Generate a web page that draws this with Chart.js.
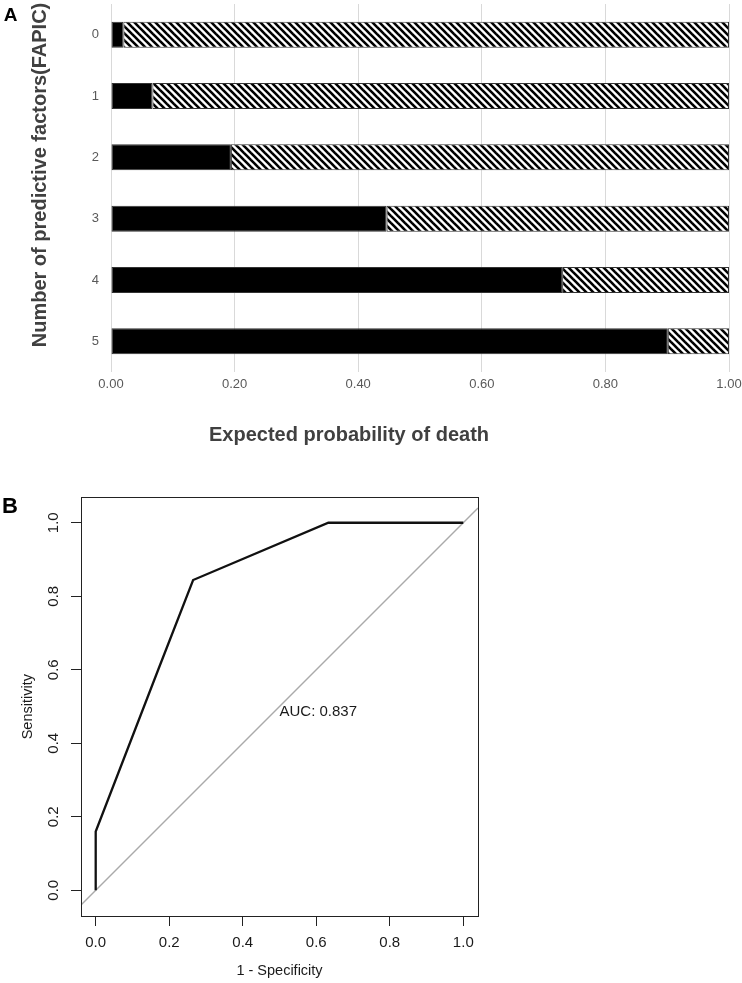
<!DOCTYPE html>
<html>
<head>
<meta charset="utf-8">
<script src="https://cdn.jsdelivr.net/npm/chart.js@4.4.1/dist/chart.umd.min.js"></script>
<style>
  html, body { margin: 0; padding: 0; background: #fff; }
  #wrap { position: relative; width: 742px; height: 983px; overflow: hidden; background: #fff; }
  #barBox { position: absolute; left: 0; top: 0; width: 742px; height: 460px; }
  #rocBox { position: absolute; left: 0; top: 470px; width: 500px; height: 513px; }
</style>
</head>
<body>
<div id="wrap">
  <div id="barBox"><canvas id="barChart"></canvas></div>
  <div id="rocBox"><canvas id="rocChart"></canvas></div>
</div>
<script>
// Panel A: expected probability of death by number of predictive factors
const factorLabels = ['0', '1', '2', '3', '4', '5'];
const deathProb = [0.020, 0.067, 0.194, 0.446, 0.730, 0.901];
const survivalProb = [0.980, 0.933, 0.806, 0.554, 0.270, 0.099];
const probTicks = [0, 0.2, 0.4, 0.6, 0.8, 1.0];

// Panel B: ROC curve
const rocX = [0, 0, 0.17, 0.265, 0.633, 1.0];
const rocY = [0, 0.16, 0.60, 0.844, 1.0, 1.0];
const refX = [-0.04, 1.04];
const refY = [-0.04, 1.04];
const rocTicks = [0, 0.2, 0.4, 0.6, 0.8, 1.0];
const aucLabel = 'AUC: 0.837';

const FONT = '"Liberation Sans", Arial, sans-serif';
Chart.defaults.font.family = FONT;

document.addEventListener('DOMContentLoaded', function() {
    // diagonal hatch for the "survival" part of the bars
    const barCanvas = document.getElementById('barChart');
    function makeHatch(ctx) {
        const s = 7;
        const tile = document.createElement('canvas');
        tile.width = s;
        tile.height = s;
        const g = tile.getContext('2d');
        g.fillStyle = '#fff';
        g.fillRect(0, 0, s, s);
        g.strokeStyle = '#000';
        g.lineWidth = 2.6;
        for (const k of [-1, 0, 1]) {
            g.beginPath();
            g.moveTo(k * s - 1, -1);
            g.lineTo(k * s + s + 1, s + 1);
            g.stroke();
        }
        return ctx.createPattern(tile, 'repeat');
    }
    const hatch = makeHatch(barCanvas.getContext('2d'));

    const barDecor = {
        id: 'barDecor',
        afterDraw(chart) {
            const ctx = chart.ctx;
            ctx.save();
            ctx.textAlign = 'center';
            ctx.textBaseline = 'middle';
            ctx.fillStyle = '#000';
            ctx.font = 'bold 19px ' + FONT;
            ctx.fillText('A', 10.5, 16);
            ctx.fillStyle = '#404040';
            ctx.font = 'bold 20px ' + FONT;
            ctx.fillText('Expected probability of death', 349, 435);
            ctx.translate(40, 175);
            ctx.rotate(-Math.PI / 2);
            ctx.fillText('Number of predictive factors(FAPIC)', 0, 0);
            ctx.restore();
        }
    };

    new Chart(barCanvas, {
        type: 'bar',
        data: {
            labels: factorLabels,
            datasets: [{
                label: 'Death',
                data: deathProb,
                backgroundColor: '#000',
                borderColor: '#333',
                borderWidth: 1,
                borderSkipped: false,
                barPercentage: 0.424,
                categoryPercentage: 1
            }, {
                label: 'Survival',
                data: survivalProb,
                backgroundColor: hatch,
                borderColor: '#333',
                borderWidth: 1,
                borderSkipped: false,
                barPercentage: 0.424,
                categoryPercentage: 1
            }]
        },
        options: {
            indexAxis: 'y',
            responsive: true,
            maintainAspectRatio: false,
            animation: false,
            layout: { padding: { left: 0, right: 13, top: 4, bottom: 0 } },
            plugins: {
                legend: { display: false },
                tooltip: { enabled: false }
            },
            scales: {
                x: {
                    stacked: true,
                    min: 0,
                    max: 1,
                    afterBuildTicks: s => { s.ticks = probTicks.map(v => ({ value: v })); },
                    afterFit: s => { s.height = 88; },
                    grid: { color: '#d9d9d9', lineWidth: 1, drawTicks: true, tickLength: 5, tickColor: 'rgba(0,0,0,0)' },
                    border: { display: false },
                    ticks: {
                        padding: 0,
                        color: '#595959',
                        font: { size: 13 },
                        callback: v => Number(v).toFixed(2)
                    }
                },
                y: {
                    stacked: true,
                    afterFit: s => { s.width = 111; },
                    grid: { drawOnChartArea: false, drawTicks: true, tickLength: 12, tickColor: 'rgba(0,0,0,0)' },
                    border: { display: false },
                    ticks: {
                        padding: 0,
                        color: '#595959',
                        font: { size: 13, lineHeight: 0.6 }
                    }
                }
            }
        },
        plugins: [barDecor]
    });

    const rocDecor = {
        id: 'rocDecor',
        afterDraw(chart) {
            const ctx = chart.ctx;
            const a = chart.chartArea;
            const xs = chart.scales.x;
            const ys = chart.scales.y;
            ctx.save();
            // frame
            ctx.strokeStyle = '#222';
            ctx.lineWidth = 1;
            ctx.strokeRect(Math.round(a.left) + 0.5, Math.round(a.top) + 0.5,
                Math.round(a.right - a.left), Math.round(a.bottom - a.top));
            ctx.fillStyle = '#1a1a1a';
            ctx.textAlign = 'center';
            ctx.textBaseline = 'middle';
            // rotated y tick labels
            ctx.font = '15px ' + FONT;
            rocTicks.forEach(v => {
                ctx.save();
                ctx.translate(54.3, ys.getPixelForValue(v));
                ctx.rotate(-Math.PI / 2);
                ctx.fillText(v.toFixed(1), 0, 0);
                ctx.restore();
            });
            ctx.font = '14.5px ' + FONT;
            ctx.fillText('1 - Specificity', 279.5, 501);
            ctx.save();
            ctx.translate(27.7, 236.7);
            ctx.rotate(-Math.PI / 2);
            ctx.fillText('Sensitivity', 0, 0);
            ctx.restore();
            // AUC text
            ctx.textAlign = 'left';
            ctx.font = '15px ' + FONT;
            ctx.fillText(aucLabel, xs.getPixelForValue(0.5), ys.getPixelForValue(0.485));
            // panel letter
            ctx.textAlign = 'center';
            ctx.fillStyle = '#000';
            ctx.font = 'bold 22px ' + FONT;
            ctx.fillText('B', 10, 37);
            ctx.restore();
        }
    };

    new Chart(document.getElementById('rocChart'), {
        type: 'scatter',
        data: {
            datasets: [{
                label: 'ROC',
                data: rocX.map((x, i) => ({ x: x, y: rocY[i] })),
                showLine: true,
                borderColor: '#111',
                borderWidth: 2.3,
                pointRadius: 0,
                tension: 0,
                fill: false
            }, {
                label: 'Reference',
                data: refX.map((x, i) => ({ x: x, y: refY[i] })),
                showLine: true,
                borderColor: '#aaaaaa',
                borderWidth: 1.5,
                pointRadius: 0,
                fill: false
            }]
        },
        options: {
            responsive: true,
            maintainAspectRatio: false,
            animation: false,
            layout: { padding: { left: 0, right: 22, top: 27, bottom: 0 } },
            plugins: {
                legend: { display: false },
                tooltip: { enabled: false }
            },
            scales: {
                x: {
                    type: 'linear',
                    min: -0.04,
                    max: 1.04,
                    afterBuildTicks: s => { s.ticks = rocTicks.map(v => ({ value: v })); },
                    afterFit: s => { s.height = 67; },
                    grid: { drawOnChartArea: false, drawTicks: true, tickLength: 10, tickColor: '#222', tickWidth: 1 },
                    border: { display: false },
                    ticks: {
                        padding: 8,
                        color: '#1a1a1a',
                        font: { size: 15 },
                        callback: v => Number(v).toFixed(1)
                    }
                },
                y: {
                    type: 'linear',
                    min: -0.07,
                    max: 1.07,
                    afterBuildTicks: s => { s.ticks = rocTicks.map(v => ({ value: v })); },
                    afterFit: s => { s.width = 81; },
                    grid: { drawOnChartArea: false, drawTicks: true, tickLength: 10, tickColor: '#222', tickWidth: 1 },
                    border: { display: false },
                    ticks: { display: false }
                }
            }
        },
        plugins: [rocDecor]
    });
});
</script>
</body>
</html>
